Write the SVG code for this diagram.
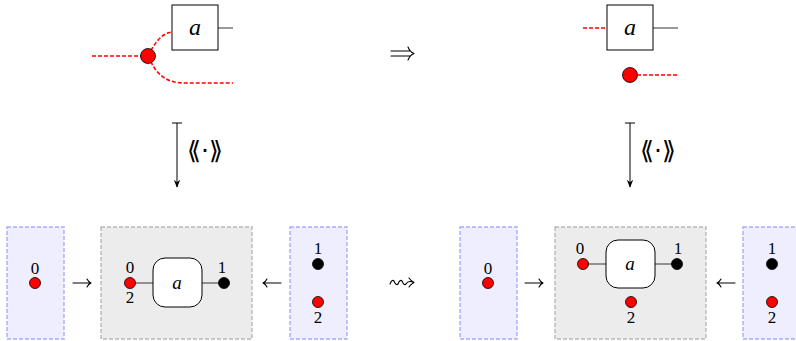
<svg xmlns="http://www.w3.org/2000/svg" width="796" height="341" viewBox="0 0 796 341">
<defs>
<style>
.wire{stroke:#555;stroke-width:1.2;fill:none}
.rw{stroke:#f00;stroke-width:1.6;fill:none;stroke-dasharray:4 2}
.gate{fill:#fff;stroke:#000;stroke-width:1}
.rdot{fill:#f00;stroke:#000;stroke-width:0.8}
.bdot{fill:#000;stroke:#000;stroke-width:0.8}
.lav{fill:#eeeeff;stroke:#aaaaff;stroke-width:1.4;stroke-dasharray:4 2}
.gry{fill:#ececec;stroke:#b8b8b8;stroke-width:1.4;stroke-dasharray:4 2}
.t{font-family:"Liberation Serif","DejaVu Serif",serif;fill:#000}
.s{font-family:"DejaVu Sans","Noto Sans",sans-serif;fill:#000;text-anchor:middle}
.lbl{font-size:17px;text-anchor:middle}
.ai{font-style:italic;text-anchor:middle}
.arr{stroke:#000;stroke-width:1;fill:none}
.sym{stroke:#000;stroke-width:1.1;fill:none;stroke-linecap:round;stroke-linejoin:round}
</style>
<marker id="ah" viewBox="0 0 10 10" refX="9" refY="5" markerWidth="8" markerHeight="8" orient="auto" markerUnits="userSpaceOnUse">
<path d="M0,1 L10,5 L0,9 L3,5 Z" fill="#000"/>
</marker>
<path id="rarrow" class="sym" d="M0,0 L18,0 M14,-4 Q15.5,-1 18,0 Q15.5,1 14,4"/>
</defs>

<g id="top-left">
<path class="rw" d="M92,56 L148,56"/>
<path class="rw" d="M148,56 C155,42 162,33 172,32"/>
<path class="rw" d="M148,56 C156,74 165,83 185,83 L233,83"/>
<line class="wire" x1="218" y1="28" x2="233" y2="28"/>
<rect class="gate" x="172" y="5" width="46" height="45"/>
<text class="t ai" x="195" y="35" font-size="24">a</text>
<circle class="rdot" cx="148" cy="56" r="7.5"/>
</g>

<g id="top-right">
<path class="rw" d="M583,28 L607,28"/>
<line class="wire" x1="653" y1="28" x2="678" y2="28"/>
<rect class="gate" x="607" y="5" width="46" height="45"/>
<text class="t ai" x="630" y="35" font-size="24">a</text>
<path class="rw" d="M637,75 L677,75"/>
<circle class="rdot" cx="630" cy="75" r="7.5"/>
</g>

<g id="connectors">
<path class="sym" d="M391,51 L410,51 M391,56 L410,56 M408,47 Q410,52 414,53.5 Q410,55 408,60"/>
<line class="arr" x1="172" y1="123" x2="182" y2="123"/>
<line class="arr" x1="177" y1="123" x2="177" y2="187" marker-end="url(#ah)"/>
<line class="arr" x1="625" y1="123" x2="635" y2="123"/>
<line class="arr" x1="630" y1="123" x2="630" y2="187" marker-end="url(#ah)"/>
<text class="s" x="205" y="159" font-size="25">⟪·⟫</text>
<text class="s" x="658" y="159" font-size="25">⟪·⟫</text>
<use href="#rarrow" x="73" y="283"/>
<use href="#rarrow" transform="translate(281,283) scale(-1,1)"/>
<use href="#rarrow" x="525" y="283"/>
<use href="#rarrow" transform="translate(735,283) scale(-1,1)"/>
<path class="sym" d="M390,284 Q392,279 394,281 Q396,286 398,284 Q400,279 402,281 Q404,286 406,284 Q408,280 414,282.5 M409,278 Q411,281 414,282.5 Q411,284 409,287"/>
</g>

<g id="bl-left">
<rect class="lav" x="7" y="227" width="57" height="112"/>
<circle class="rdot" cx="35" cy="283" r="5.5"/>
<text class="t lbl" x="35" y="274">0</text>
</g>

<g id="bl-mid">
<rect class="gry" x="101" y="227" width="151" height="112"/>
<line class="wire" x1="130" y1="283" x2="153" y2="283"/>
<line class="wire" x1="202" y1="283" x2="224" y2="283"/>
<rect class="gate" x="153" y="258" width="49" height="49" rx="12"/>
<text class="t ai" x="177" y="289" font-size="19">a</text>
<circle class="rdot" cx="130" cy="283" r="5.5"/>
<circle class="bdot" cx="224" cy="283" r="5.5"/>
<text class="t lbl" x="130" y="273">0</text>
<text class="t lbl" x="130" y="303">2</text>
<text class="t lbl" x="222" y="273">1</text>
</g>

<g id="bl-right">
<rect class="lav" x="290" y="227" width="57" height="112"/>
<circle class="bdot" cx="318" cy="264" r="5.5"/>
<circle class="rdot" cx="318" cy="302" r="5.5"/>
<text class="t lbl" x="318" y="254">1</text>
<text class="t lbl" x="318" y="323">2</text>
</g>

<g id="br-left">
<rect class="lav" x="460" y="227" width="57" height="112"/>
<circle class="rdot" cx="488" cy="283" r="5.5"/>
<text class="t lbl" x="488" y="274">0</text>
</g>

<g id="br-mid">
<rect class="gry" x="555" y="227" width="151" height="112"/>
<line class="wire" x1="583" y1="264" x2="606" y2="264"/>
<line class="wire" x1="655" y1="264" x2="677" y2="264"/>
<rect class="gate" x="606" y="240" width="49" height="48" rx="12"/>
<text class="t ai" x="630" y="270" font-size="19">a</text>
<circle class="rdot" cx="583" cy="264" r="5.5"/>
<circle class="bdot" cx="677" cy="264" r="5.5"/>
<circle class="rdot" cx="631" cy="302" r="5.5"/>
<text class="t lbl" x="580" y="254">0</text>
<text class="t lbl" x="678" y="254">1</text>
<text class="t lbl" x="631" y="323">2</text>
</g>

<g id="br-right">
<rect class="lav" x="743" y="227" width="60" height="112"/>
<circle class="bdot" cx="772" cy="264" r="5.5"/>
<circle class="rdot" cx="772" cy="302" r="5.5"/>
<text class="t lbl" x="772" y="254">1</text>
<text class="t lbl" x="772" y="323">2</text>
</g>
</svg>
